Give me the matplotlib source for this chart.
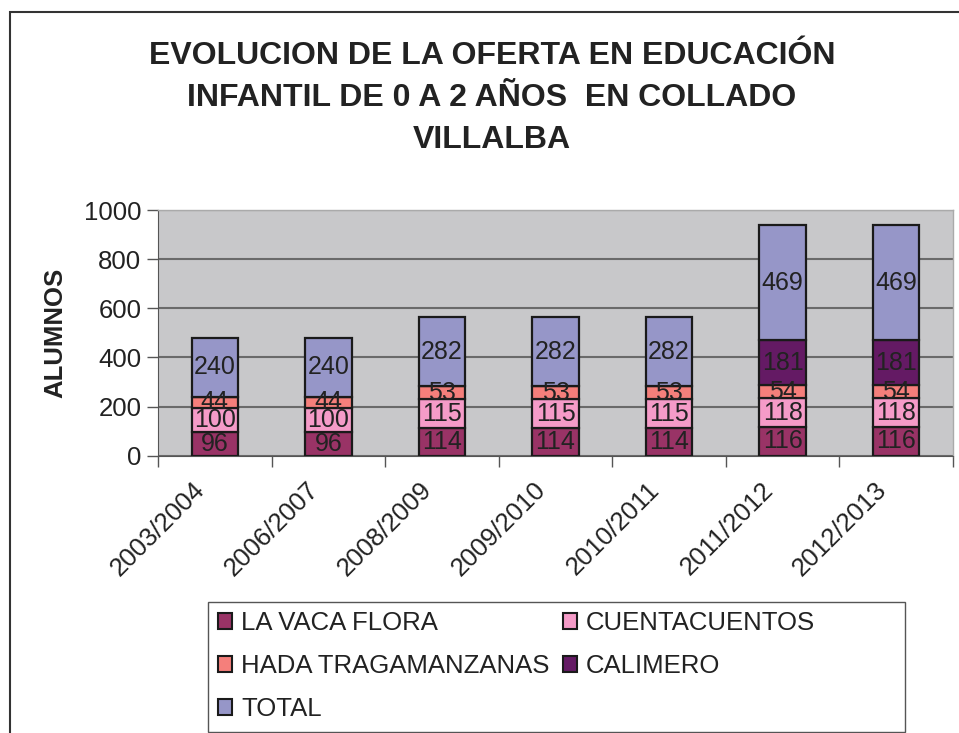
import matplotlib
matplotlib.use("Agg")
import matplotlib.pyplot as plt
from matplotlib.patches import Rectangle, Patch
from matplotlib.transforms import ScaledTranslation
import numpy as np

categories = ["2003/2004", "2006/2007", "2008/2009", "2009/2010", "2010/2011", "2011/2012", "2012/2013"]
series_names = ["LA VACA FLORA", "CUENTACUENTOS", "HADA TRAGAMANZANAS", "CALIMERO", "TOTAL"]
vaca_flora = [96, 96, 114, 114, 114, 116, 116]
cuentacuentos = [100, 100, 115, 115, 115, 118, 118]
hada = [44, 44, 53, 53, 53, 54, 54]
calimero = [0, 0, 0, 0, 0, 181, 181]
total = [240, 240, 282, 282, 282, 469, 469]
colors = ["#993366", "#F59BC8", "#F57F7B", "#641A64", "#9696C8"]
yticks = [0, 200, 400, 600, 800, 1000]
title = "EVOLUCION DE LA OFERTA EN EDUCACIÓN\nINFANTIL DE 0 A 2 AÑOS  EN COLLADO\nVILLALBA"

plt.rcParams['font.family'] = ['Liberation Sans', 'DejaVu Sans']

W, H = 959, 733
fig = plt.figure(figsize=(W / 100, H / 100), dpi=100)
fig.patch.set_facecolor("white")

# figure border
fig.add_artist(Rectangle((10 / W, -0.05), 1.2, 1 - 12 / H + 0.05,
                         transform=fig.transFigure, fill=False,
                         edgecolor="#333333", linewidth=1.5))

ax = fig.add_axes([158 / W, 1 - 455.7 / H, (953 - 158) / W, (455.7 - 210) / H])
ax.set_facecolor("#C8C8CA")

x = np.arange(len(categories))
data = [vaca_flora, cuentacuentos, hada, calimero, total]
bottom = np.zeros(len(categories))
handles = []
for name, vals, col in zip(series_names, data, colors):
    vals = np.array(vals, dtype=float)
    ax.bar(x, vals, 0.41, bottom=bottom, color=col, edgecolor="#1a1a1a",
           linewidth=1.6, zorder=3)
    for xi, b, v in zip(x, bottom, vals):
        if v > 0:
            ax.text(xi, b + v / 2, f"{int(v)}", ha="center", va="center",
                    fontsize=18, color="#222222", zorder=4)
    bottom += vals
    handles.append(Patch(facecolor=col, edgecolor="#1a1a1a", linewidth=1.5, label=name))

ax.set_xlim(-0.5, len(categories) - 0.5)
ax.set_ylim(0, 1000)
ax.set_yticks(yticks)
ax.tick_params(axis="y", labelsize=18.5, length=8, width=1, color="#555555", pad=4,
               labelcolor="#222222")
ax.set_xticks(x)
ax.set_xticklabels(categories, rotation=45, ha="right", va="top", rotation_mode="anchor",
                   fontsize=18.5, color="#222222")
ax.tick_params(axis="x", which="major", length=0, pad=12)
off = ScaledTranslation(-22 / 100, -5 / 100, fig.dpi_scale_trans)
for lab in ax.get_xticklabels():
    lab.set_transform(lab.get_transform() + off)
ax.set_xticks(np.arange(-0.5, len(categories), 1.0), minor=True)
ax.tick_params(axis="x", which="minor", length=8, width=1, color="#555555")

ax.yaxis.grid(True, color="#6A6A6A", linewidth=1.5, zorder=1)
ax.set_axisbelow(True)
for side in ["top", "right"]:
    ax.spines[side].set_color("#AAAAAA")
    ax.spines[side].set_linewidth(1)
ax.spines["left"].set_color("#555555")
ax.spines["bottom"].set_color("#555555")

ax.set_ylabel("ALUMNOS", fontsize=18.5, fontweight="bold", labelpad=12, color="#222222")

fig.text(492 / W, 1 - 98 / H, title, ha="center", va="center", fontsize=23,
         fontweight="bold", color="#222222", linespacing=1.53)

# legend frame
fig.add_artist(Rectangle((208 / W, 1 - 732 / H), (905 - 208) / W, (732 - 602) / H,
                         transform=fig.transFigure, facecolor="white",
                         edgecolor="#555555", linewidth=1, zorder=5))
common = dict(loc="upper left", bbox_transform=fig.transFigure, frameon=False,
              prop={"size": 18.5}, handlelength=0.55, handleheight=0.55,
              handletextpad=0.35, labelspacing=0.74, borderpad=0, borderaxespad=0)
col1 = [0, 2, 4]
col2 = [1, 3]
leg1 = fig.legend([handles[i] for i in col1], [series_names[i] for i in col1],
                  bbox_to_anchor=(218 / W, 1 - 611 / H), **common)
leg2 = fig.legend([handles[i] for i in col2], [series_names[i] for i in col2],
                  bbox_to_anchor=(563 / W, 1 - 611 / H), **common)
for leg in (leg1, leg2):
    leg.set_zorder(6)
    for t in leg.get_texts():
        t.set_color("#222222")

fig.savefig("out.png", dpi=100)
